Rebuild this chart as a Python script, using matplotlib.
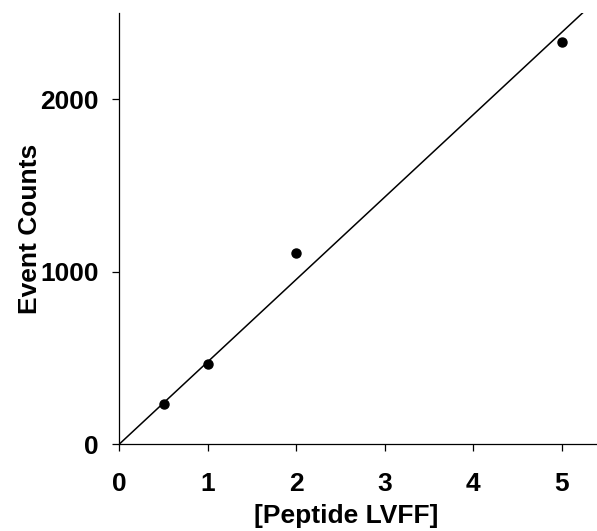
import numpy as np
import matplotlib
matplotlib.use("Agg")
import matplotlib.pyplot as plt

# veriler
peptide = np.array([0.5, 1.0, 2.0, 5.0])
counts = np.array([232, 464, 1109, 2329])

# orijinden geçen doğrusal fit
egim = np.sum(peptide * counts) / np.sum(peptide ** 2)
fit_x = np.array([0, 6])
fit_y = egim * fit_x

plt.rcParams['font.family'] = ['Liberation Sans', 'DejaVu Sans']
plt.rcParams['font.weight'] = 'bold'

figure = plt.figure(figsize=(5.97, 5.31), dpi=100)
eksen = figure.add_axes([0.2, 0.1638, 0.8, 0.8117])

eksen.plot(fit_x, fit_y, color="black", linewidth=1.1)
eksen.plot(peptide, counts, "o", color="black", markersize=6.5)

eksen.set_xlim(0, 5.4)
eksen.set_ylim(0, 2500)
eksen.set_xticks([0, 1, 2, 3, 4, 5])
eksen.set_yticks([0, 1000, 2000])

eksen.spines['top'].set_visible(False)
eksen.spines['right'].set_visible(False)
for s in ['left', 'bottom']:
    eksen.spines[s].set_linewidth(0.9)

eksen.tick_params(direction='out', length=5, width=0.9, labelsize=19)
eksen.tick_params(axis='x', pad=15)
eksen.tick_params(axis='y', pad=10)
for lbl in eksen.get_xticklabels() + eksen.get_yticklabels():
    lbl.set_fontweight('bold')

eksen.set_xlabel("[Peptide LVFF]", fontsize=19, fontweight='bold')
eksen.set_ylabel("Event Counts", fontsize=19, fontweight='bold')
eksen.xaxis.set_label_coords(0.4746, -0.14)
eksen.yaxis.set_label_coords(-0.163, 0.5)

figure.savefig("out.png", dpi=100)
